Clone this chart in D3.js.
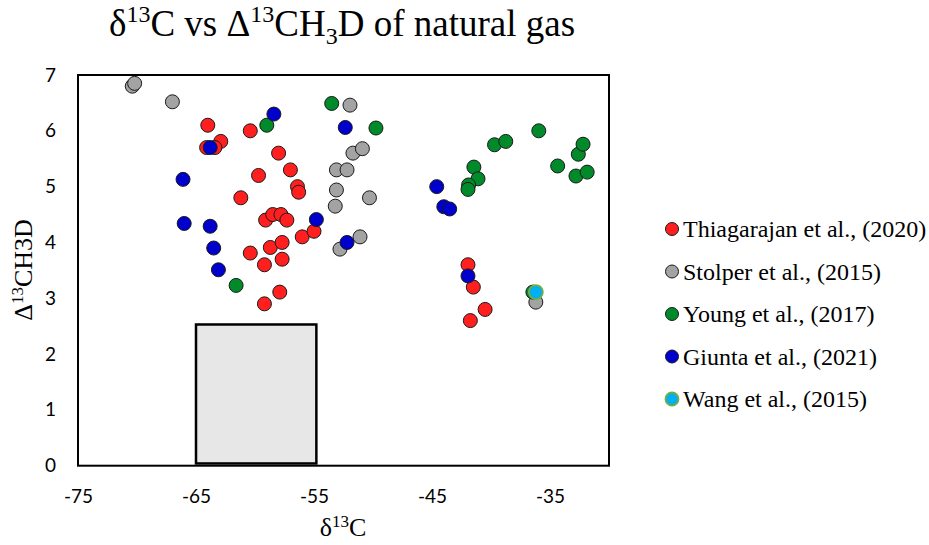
<!DOCTYPE html>
<html>
<head>
<meta charset="utf-8">
<script src="https://cdn.jsdelivr.net/npm/d3@7"></script>
<style>
  body { margin: 0; background: #fff; }
  .tick text { font-family: Lato, sans-serif; font-size: 19px; fill: #000; }
  .serif { font-family: "Liberation Serif", "Times New Roman", serif; fill: #000; }
</style>
</head>
<body>
<div class="chart"></div>
<script>
// x tick labels and y ticks
var xTicks = [-75, -65, -55, -45, -35];
var yTicks = [0, 1, 2, 3, 4, 5, 6, 7];

// series: [d13C, D13CH3D]
var thiagarajan = [
  [-64.0, 6.10], [-60.4, 6.00], [-62.9, 5.81], [-64.1, 5.70], [-63.4, 5.70],
  [-58.0, 5.60], [-57.0, 5.30], [-59.7, 5.20], [-56.4, 5.00], [-56.3, 4.90],
  [-61.2, 4.80], [-59.1, 4.40], [-58.5, 4.50], [-57.8, 4.50], [-57.3, 4.40],
  [-56.0, 4.10], [-55.0, 4.20], [-58.7, 3.91], [-57.7, 4.00], [-60.4, 3.81],
  [-57.7, 3.70], [-59.2, 3.60], [-57.9, 3.11], [-59.2, 2.90],
  [-41.95, 3.60], [-41.5, 3.20], [-40.5, 2.80], [-41.75, 2.60]
];
var stolper = [
  [-70.4, 6.80], [-70.2, 6.85], [-67.0, 6.52], [-51.95, 6.46], [-51.7, 5.60],
  [-50.9, 5.68], [-53.1, 5.30], [-52.2, 5.30], [-53.1, 4.94], [-53.2, 4.65],
  [-50.3, 4.80], [-51.1, 4.10], [-52.8, 3.88], [-36.2, 2.93]
];
var young = [
  [-59.0, 6.10], [-53.5, 6.49], [-49.75, 6.05], [-61.6, 3.23], [-41.45, 5.35],
  [-41.1, 5.14], [-41.9, 5.03], [-41.95, 4.95], [-39.7, 5.75], [-38.75, 5.81],
  [-35.95, 6.00], [-34.35, 5.37], [-32.8, 5.19], [-31.85, 5.26], [-32.6, 5.58],
  [-32.2, 5.76], [-36.45, 3.11]
];
var giunta = [
  [-58.4, 6.30], [-63.8, 5.70], [-52.35, 6.06], [-66.1, 5.13], [-66.0, 4.34],
  [-63.8, 4.29], [-54.8, 4.41], [-52.2, 4.00], [-63.5, 3.90], [-63.1, 3.51],
  [-44.6, 5.00], [-44.0, 4.64], [-43.5, 4.60], [-41.95, 3.40]
];
var wang = [[-36.2, 3.11]];

// grey box: x from / to, y from / to
var boxX = [-65, -54.8];
var boxY = [0.04, 2.53];

var series = [
  {name: "Thiagarajan et al., (2020)", data: thiagarajan, fill: "#ff1f1f", stroke: "#1a1a1a"},
  {name: "Stolper et al., (2015)", data: stolper, fill: "#a3a3a3", stroke: "#1a1a1a"},
  {name: "Young et al., (2017)", data: young, fill: "#008a29", stroke: "#1a1a1a"},
  {name: "Giunta et al., (2021)", data: giunta, fill: "#0000cc", stroke: "#1a1a1a"},
  {name: "Wang et al., (2015)", data: wang, fill: "#00b0f0", stroke: "#70ad47"}
];

var W = 929, H = 545;
var pLeft = 78, pRight = 609, pTop = 75, pBottom = 465.7;

var svg = d3.select(".chart").append("svg")
    .attr("width", W)
    .attr("height", H);

var x = d3.scaleLinear().domain([-75, -30]).range([pLeft, pRight]);
var y = d3.scaleLinear().domain([0, 7]).range([pBottom, pTop]);

// title
var title = svg.append("text")
    .attr("class", "serif")
    .attr("x", 342).attr("y", 36)
    .attr("text-anchor", "middle")
    .style("font-size", "37px");
title.append("tspan").text("δ");
title.append("tspan").attr("dy", -14).style("font-size", "24px").text("13");
title.append("tspan").attr("dy", 14).text("C vs Δ");
title.append("tspan").attr("dy", -14).style("font-size", "24px").text("13");
title.append("tspan").attr("dy", 14).text("CH");
title.append("tspan").attr("dy", 8).style("font-size", "24px").text("3");
title.append("tspan").attr("dy", -8).text("D of natural gas");

// axes (labels only)
svg.append("g")
    .attr("transform", "translate(0," + pBottom + ")")
    .call(d3.axisBottom(x).tickValues(xTicks).tickSize(0).tickPadding(24).tickFormat(d => String(d)))
    .call(g => g.select(".domain").remove());

svg.append("g")
    .attr("transform", "translate(" + pLeft + ",0)")
    .call(d3.axisLeft(y).tickValues(yTicks).tickSize(0).tickPadding(22).tickFormat(d => String(d)))
    .call(g => g.select(".domain").remove());

// frame
svg.append("rect")
    .attr("x", pLeft).attr("y", pTop)
    .attr("width", pRight - pLeft).attr("height", pBottom - pTop)
    .attr("fill", "none")
    .attr("stroke", "#000")
    .attr("stroke-width", 2);

// grey box
svg.append("rect")
    .attr("x", x(boxX[0])).attr("y", y(boxY[1]))
    .attr("width", x(boxX[1]) - x(boxX[0]))
    .attr("height", y(boxY[0]) - y(boxY[1]))
    .attr("fill", "#e7e7e7")
    .attr("stroke", "#000")
    .attr("stroke-width", 2.5);

// points
series.forEach(function(s){
  svg.append("g").selectAll("circle")
    .data(s.data)
    .enter().append("circle")
    .attr("cx", d => x(d[0]))
    .attr("cy", d => y(d[1]))
    .attr("r", 7)
    .attr("fill", s.fill)
    .attr("stroke", s.stroke)
    .attr("stroke-width", s.name.indexOf("Wang") === 0 ? 1.8 : 1);
});

// axis titles
var xt = svg.append("text")
    .attr("class", "serif")
    .attr("x", 343).attr("y", 536)
    .attr("text-anchor", "middle")
    .style("font-size", "26px");
xt.append("tspan").text("δ");
xt.append("tspan").attr("dy", -9).style("font-size", "17px").text("13");
xt.append("tspan").attr("dy", 9).text("C");

var yt = svg.append("text")
    .attr("class", "serif")
    .attr("transform", "translate(32,270) rotate(-90)")
    .attr("text-anchor", "middle")
    .style("font-size", "26px");
yt.append("tspan").text("Δ");
yt.append("tspan").attr("dy", -9).style("font-size", "17px").text("13");
yt.append("tspan").attr("dy", 9).text("CH3D");

// legend
var legend = svg.append("g").selectAll("g")
    .data(series)
    .enter().append("g")
    .attr("transform", (d, i) => "translate(672," + (229 + i * 42.5) + ")");

legend.append("circle")
    .attr("r", 6.5)
    .attr("fill", d => d.fill)
    .attr("stroke", d => d.stroke)
    .attr("stroke-width", d => d.name.indexOf("Wang") === 0 ? 1.8 : 1);

legend.append("text")
    .attr("class", "serif")
    .attr("x", 11).attr("y", 8)
    .style("font-size", "24px")
    .text(d => d.name);
</script>
</body>
</html>
